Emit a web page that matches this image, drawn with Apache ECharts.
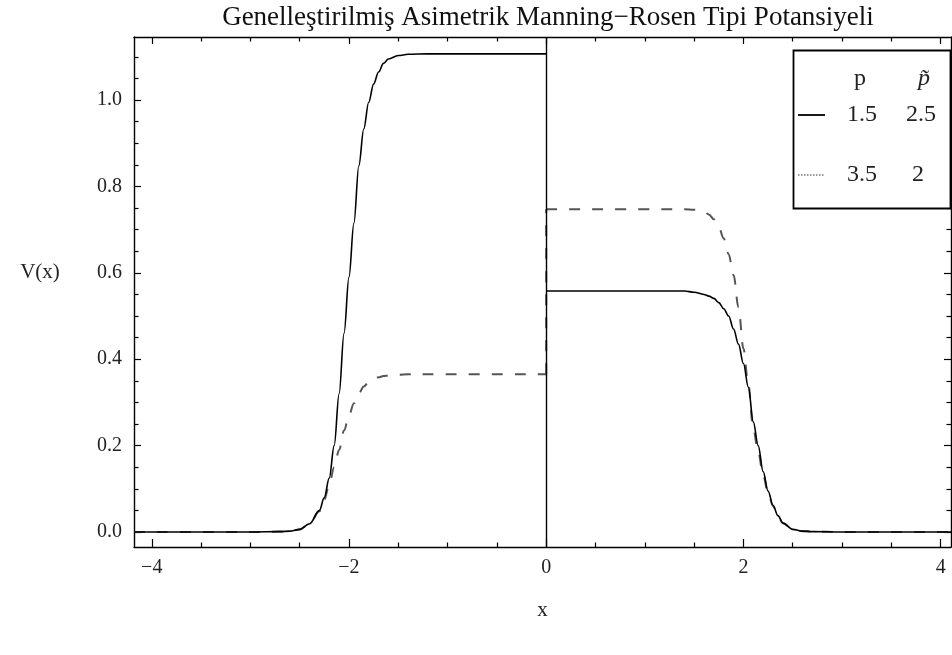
<!DOCTYPE html>
<html><head><meta charset="utf-8">
<script src="https://cdn.jsdelivr.net/npm/echarts@6/dist/echarts.min.js"></script>
<style>html,body{margin:0;padding:0;background:#fff}#c{width:952px;height:655px}</style>
</head><body><div id="c"></div>
<script>
// ---- data ----
const titleText = 'Genelleştirilmiş Asimetrik Manning\u2212Rosen Tipi Potansiyeli';
const leftX = [-4.18, -3.0, -2.7, -2.6, -2.5, -2.4, -2.3, -2.25, -2.2, -2.15, -2.1, -2.05, -2.0, -1.95, -1.9, -1.85, -1.8, -1.75, -1.7, -1.65, -1.6, -1.5, -1.4, -1.2, 0];
const solidLeftV = [0, 0, 0.001, 0.002, 0.006, 0.019, 0.05, 0.08, 0.125, 0.2, 0.32, 0.46, 0.59, 0.715, 0.848, 0.933, 0.995, 1.037, 1.065, 1.085, 1.095, 1.103, 1.106, 1.107, 1.107];
const dashedLeftV = [0, 0, 0.001, 0.002, 0.006, 0.019, 0.048, 0.075, 0.11, 0.15, 0.19, 0.235, 0.27, 0.298, 0.321, 0.337, 0.347, 0.354, 0.358, 0.361, 0.362, 0.364, 0.365, 0.365, 0.365];
const rightX = [0, 1.4, 1.5, 1.6, 1.65, 1.7, 1.75, 1.8, 1.85, 1.9, 1.95, 2.0, 2.05, 2.1, 2.15, 2.2, 2.25, 2.3, 2.35, 2.4, 2.5, 2.6, 2.7, 3.0, 4.105];
const solidRightV = [0.558, 0.558, 0.555, 0.55, 0.546, 0.541, 0.531, 0.517, 0.5, 0.47, 0.435, 0.39, 0.335, 0.255, 0.2, 0.14, 0.095, 0.062, 0.038, 0.021, 0.006, 0.002, 0.001, 0, 0];
const dashedRightV = [0.747, 0.747, 0.746, 0.742, 0.735, 0.724, 0.706, 0.68, 0.643, 0.595, 0.52, 0.425, 0.34, 0.238, 0.185, 0.132, 0.09, 0.06, 0.037, 0.02, 0.006, 0.002, 0.001, 0, 0];
const xMajorTicks = [-4, -2, 0, 2, 4];
const xMinorTicks = [-3.5, -3, -2.5, -1.5, -1, -0.5, 0.5, 1, 1.5, 2.5, 3, 3.5];
const yMajorTicks = [0, 0.2, 0.4, 0.6, 0.8, 1.0];
const yMinorTicks = [0.05, 0.1, 0.15, 0.25, 0.3, 0.35, 0.45, 0.5, 0.55, 0.65, 0.7, 0.75, 0.85, 0.9, 0.95, 1.05, 1.1];
const legendHeader = ['p', 'p\u0303'];
const legendRows = [['1.5', '2.5'], ['3.5', '2']];
const xName = 'x';
const yName = 'V(x)';

// ---- chart ----
const FONT = '"Liberation Serif", "Times New Roman", serif';
const X_MIN = -4.18, X_MAX = 4.105, Y_MIN = -0.0347, Y_MAX = 1.146;
const zip = (xs, ys) => xs.map((x, i) => [x, ys[i]]);

function xAx(position, ticks, len, labels, line) {
  return {
    type: 'value', position: position, min: X_MIN, max: X_MAX,
    axisLine: { show: line, onZero: false, lineStyle: { color: '#000', width: 1.4 } },
    axisTick: { show: true, inside: true, length: len, customValues: ticks, lineStyle: { color: '#000', width: 1.2 } },
    axisLabel: labels ? { show: true, customValues: ticks, margin: 11, color: '#222', fontFamily: FONT, fontSize: 20,
      formatter: v => String(v).replace('-', '\u2212') } : { show: false },
    splitLine: { show: false },
    name: labels ? xName : '', nameLocation: 'middle', nameGap: 53,
    nameTextStyle: { color: '#222', fontFamily: FONT, fontSize: 21 }
  };
}
function yAx(position, ticks, len, labels, line) {
  return {
    type: 'value', position: position, min: Y_MIN, max: Y_MAX,
    axisLine: { show: line, onZero: false, lineStyle: { color: '#000', width: 1.4 } },
    axisTick: { show: true, inside: true, length: len, customValues: ticks, lineStyle: { color: '#000', width: 1.2 } },
    axisLabel: labels ? { show: true, customValues: ticks, margin: 12, color: '#222', fontFamily: FONT, fontSize: 20,
      formatter: v => v.toFixed(1) } : { show: false },
    splitLine: { show: false }
  };
}

const solidStyle = { color: '#000', width: 1.6 };
const dashStyle = { color: '#555', width: 2, type: [11, 12] };
function lineSeries(data, style, extra) {
  return Object.assign({
    type: 'line', xAxisIndex: 0, yAxisIndex: 0, data: data, showSymbol: false, symbol: 'none',
    smooth: 0.35, smoothMonotone: 'x', lineStyle: style, silent: true
  }, extra || {});
}

const legendFont = '24px ' + FONT;
const graphics = [
  { type: 'text', x: 40, y: 272, style: { text: yName, font: '21px ' + FONT, fill: '#222', align: 'center', verticalAlign: 'middle' } },
  { type: 'rect', shape: { x: 793.5, y: 50.5, width: 157, height: 158 }, style: { fill: '#fff', stroke: '#000', lineWidth: 1.8 }, z: 10 },
  { type: 'text', x: 860, y: 79, z: 11, style: { text: legendHeader[0], font: legendFont, fill: '#222', align: 'center', verticalAlign: 'middle' } },
  { type: 'text', x: 924, y: 79, z: 11, style: { text: legendHeader[1], font: 'italic ' + legendFont, fill: '#222', align: 'center', verticalAlign: 'middle' } },
  { type: 'line', z: 11, shape: { x1: 798, y1: 115, x2: 825, y2: 115 }, style: { stroke: '#000', lineWidth: 1.8 } },
  { type: 'text', x: 862, y: 115, z: 11, style: { text: legendRows[0][0], font: legendFont, fill: '#222', align: 'center', verticalAlign: 'middle' } },
  { type: 'text', x: 921, y: 115, z: 11, style: { text: legendRows[0][1], font: legendFont, fill: '#222', align: 'center', verticalAlign: 'middle' } },
  { type: 'line', z: 11, shape: { x1: 798, y1: 175, x2: 825, y2: 175 }, style: { stroke: '#777', lineWidth: 1.5, lineDash: [1.5, 1.5] } },
  { type: 'text', x: 862, y: 175, z: 11, style: { text: legendRows[1][0], font: legendFont, fill: '#222', align: 'center', verticalAlign: 'middle' } },
  { type: 'text', x: 918, y: 175, z: 11, style: { text: legendRows[1][1], font: legendFont, fill: '#222', align: 'center', verticalAlign: 'middle' } }
];

const chart = echarts.init(document.getElementById('c'), null, { renderer: 'canvas' });
chart.setOption({
  animation: false,
  backgroundColor: '#fff',
  title: { text: titleText, left: 543, textAlign: 'center', top: -1,
    textStyle: { fontFamily: FONT, fontSize: 27, fontWeight: 'normal', color: '#111' } },
  grid: { left: 134, top: 37, width: 817, height: 510, containLabel: false },
  xAxis: [
    xAx('bottom', xMajorTicks, 8, true, true),
    xAx('bottom', xMinorTicks, 4.5, false, false),
    xAx('top', xMajorTicks, 7, false, true),
    xAx('top', xMinorTicks, 4.5, false, false)
  ],
  yAxis: [
    yAx('left', yMajorTicks, 7, true, true),
    yAx('left', yMinorTicks, 4.5, false, false),
    yAx('right', yMajorTicks, 7, false, true),
    yAx('right', yMinorTicks, 4.5, false, false)
  ],
  series: [
    lineSeries(zip(leftX, dashedLeftV), dashStyle),
    lineSeries(zip(rightX, dashedRightV), dashStyle),
    lineSeries([[0, dashedLeftV[dashedLeftV.length - 1]], [0, dashedRightV[0]]], dashStyle, { smooth: false }),
    lineSeries(zip(leftX, solidLeftV), solidStyle, {
      markLine: { silent: true, symbol: 'none', label: { show: false },
        lineStyle: { color: '#000', width: 1.4, type: 'solid' }, data: [{ xAxis: 0 }] }
    }),
    lineSeries(zip(rightX, solidRightV), solidStyle)
  ],
  graphic: graphics
});
</script>
</body></html>
